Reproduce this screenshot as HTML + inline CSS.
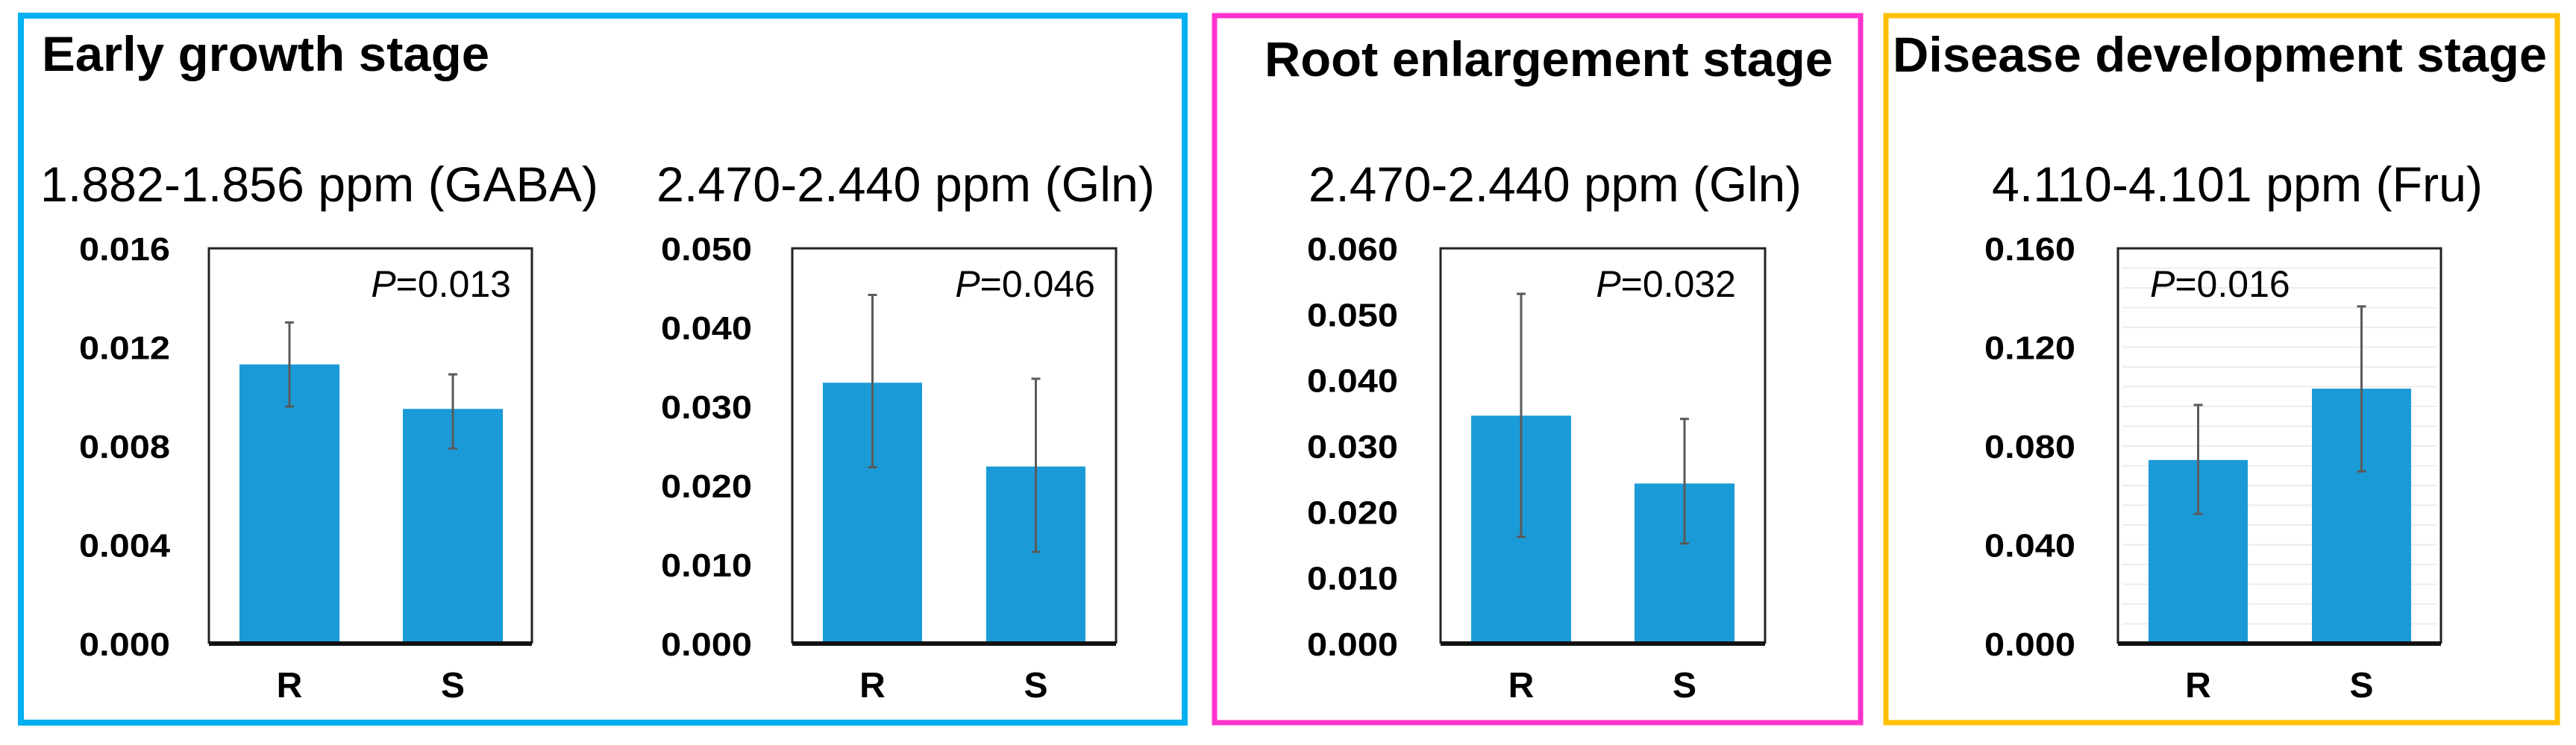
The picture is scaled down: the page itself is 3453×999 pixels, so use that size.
<!DOCTYPE html>
<html><head><meta charset="utf-8"><style>
html,body{margin:0;padding:0;background:#fff;}
svg{display:block;font-family:"Liberation Sans",Arial,sans-serif;}
</style></head><body>
<svg id="fig" width="3453" height="999" viewBox="0 0 3453 999">
<rect x="28" y="21" width="1560" height="948" fill="none" stroke="#00b0f0" stroke-width="8"/>
<rect x="1628" y="21" width="866" height="948" fill="none" stroke="#ff33cc" stroke-width="7"/>
<rect x="2528" y="21" width="900" height="948" fill="none" stroke="#ffc000" stroke-width="7"/>
<text x="56" y="95" font-size="66" font-weight="bold" textLength="600" lengthAdjust="spacingAndGlyphs">Early growth stage</text>
<text x="1695" y="102" font-size="66" font-weight="bold" textLength="762" lengthAdjust="spacingAndGlyphs">Root enlargement stage</text>
<text x="2537" y="96" font-size="66" font-weight="bold" textLength="877" lengthAdjust="spacingAndGlyphs">Disease development stage</text>
<g id="charts"></g>
</svg>
<script>
const titles = ["1.882-1.856 ppm (GABA)", "2.470-2.440 ppm (Gln)", "2.470-2.440 ppm (Gln)", "4.110-4.101 ppm (Fru)"];
const categories = ["R", "S"];
const means1 = [0.0113, 0.0095];
const errHi1 = [0.0130, 0.0109];
const errLo1 = [0.0096, 0.0079];
const means2 = [0.0330, 0.0224];
const errHi2 = [0.0441, 0.0335];
const errLo2 = [0.0223, 0.0116];
const means3 = [0.0346, 0.0243];
const errHi3 = [0.0531, 0.0341];
const errLo3 = [0.0162, 0.0152];
const means4 = [0.0743, 0.1032];
const errHi4 = [0.0966, 0.1365];
const errLo4 = [0.0525, 0.0697];
const yMaxes = [0.016, 0.05, 0.06, 0.16];
const tickStep = [0.004, 0.01, 0.01, 0.04];
const tickDecimals = [3, 3, 3, 3];
const pValues = ["0.013", "0.046", "0.032", "0.016"];

const NS = "http://www.w3.org/2000/svg";
const chartGroup = document.getElementById("charts");
function mk(tag, attrs, parent){const e=document.createElementNS(NS,tag);for(const k in attrs)e.setAttribute(k,attrs[k]);(parent||chartGroup).appendChild(e);return e;}

const layouts = [
 {left:280,right:713,tickX:228,subX:54,subW:748,bars:[321,540],bw:134,pX:685,pAnchor:"end",grid:false},
 {left:1062,right:1496,tickX:1008,subX:880,subW:668,bars:[1103,1322],bw:133,pX:1468,pAnchor:"end",grid:false},
 {left:1931,right:2366,tickX:1874,subX:1754,subW:661,bars:[1972,2191],bw:134,pX:2327,pAnchor:"end",grid:false},
 {left:2839,right:3272,tickX:2782,subX:2670,subW:658,bars:[2880,3099],bw:133,pX:2882,pAnchor:"start",grid:true}
];
const means=[means1,means2,means3,means4], his=[errHi1,errHi2,errHi3,errHi4], los=[errLo1,errLo2,errLo3,errLo4];
const plotTop=333, plotBottom=863;

layouts.forEach((L,i)=>{
  const y = v => plotBottom - v/yMaxes[i]*(plotBottom-plotTop);
  const sub = mk("text",{x:L.subX,y:270,"font-size":66,textLength:L.subW,lengthAdjust:"spacingAndGlyphs"});
  sub.textContent = titles[i];
  
  
  if(L.grid){
    for(let k=1;k<20;k++){
      const gy=y(yMaxes[i]*k/20);
      const gl=mk("line",{x1:L.left+6,x2:L.right-6,y1:gy,y2:gy,stroke:"#ececec","stroke-width":2});
      
      
    }
  }
  const n = Math.round(yMaxes[i]/tickStep[i]);
  for(let k=0;k<=n;k++){
    const v=k*tickStep[i];
    const t=mk("text",{x:L.tickX,y:y(v)+16,"font-size":44,"font-weight":"bold","text-anchor":"end",textLength:122,lengthAdjust:"spacingAndGlyphs"});
    t.textContent=v.toFixed(tickDecimals[i]);
    
    
  }
  categories.forEach((c,j)=>{
    const bx=L.bars[j];
    const b=mk("rect",{x:bx,y:y(means[i][j]),width:L.bw,height:plotBottom-y(means[i][j]),fill:"#1a9bd7"});
    
    
    const cx=bx+L.bw/2;
    const e=mk("path",{d:`M${cx},${y(his[i][j])}V${y(los[i][j])}M${cx-6},${y(his[i][j])}H${cx+6}M${cx-6},${y(los[i][j])}H${cx+6}`,stroke:"#5a5a5a","stroke-width":3,fill:"none"});
    
    
    const xl=mk("text",{x:cx,y:935,"font-size":48,"font-weight":"bold","text-anchor":"middle"});
    xl.textContent=c;
    
    
  });
  const fr=mk("path",{d:`M${L.left},${plotBottom}V${plotTop}H${L.right}V${plotBottom}`,stroke:"#222","stroke-width":3,fill:"none"});
  
  
  const ax=mk("line",{x1:L.left,x2:L.right,y1:plotBottom,y2:plotBottom,stroke:"#111","stroke-width":6});
  
  
  const p=mk("text",{x:L.pX,y:398,"font-size":50,"text-anchor":L.pAnchor});
  const pi=mk("tspan",{"font-style":"italic"},p); pi.textContent="P";
  const pr=mk("tspan",{},p); pr.textContent="="+pValues[i];
  
  
});
</script>
</body></html>
